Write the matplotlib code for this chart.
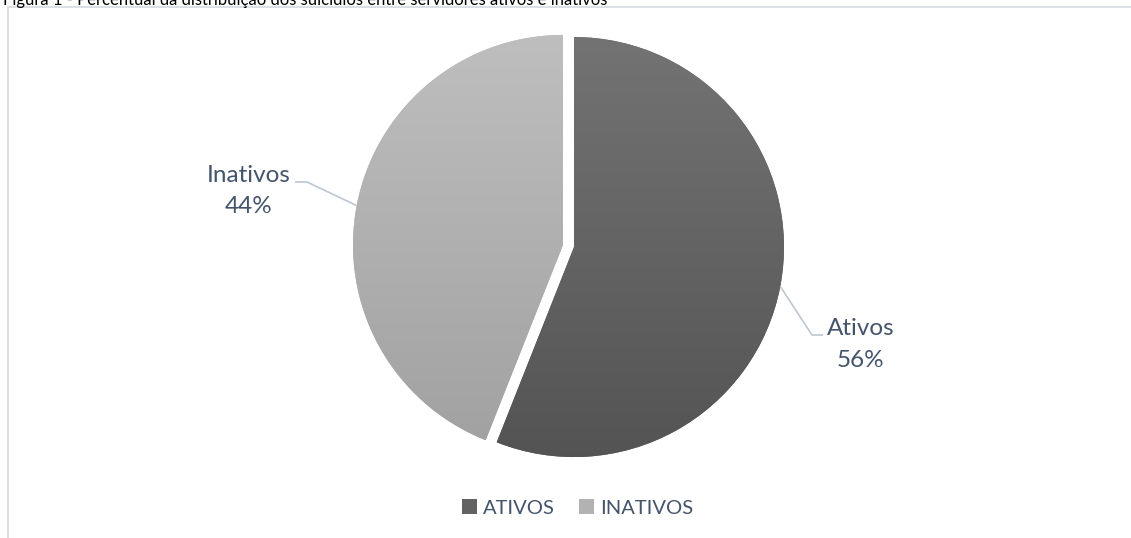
import matplotlib
matplotlib.use('Agg')
import matplotlib.pyplot as plt
import numpy as np
from matplotlib.patches import Rectangle, Patch
from matplotlib.colors import LinearSegmentedColormap

# ---- data ----
categories = ['Ativos', 'Inativos']
legend_labels = ['ATIVOS', 'INATIVOS']
percentages = [56, 44]
title = 'Figura 1 - Percentual da distribuição dos suicídios entre servidores ativos e inativos'

# ---- style ----
plt.rcParams['font.family'] = ['Lato', 'DejaVu Sans']
text_color = '#44546A'
line_color = '#BDC7D3'
grad_colors = [('#747474', '#535353'), ('#BFBFBF', '#A0A0A0')]
legend_colors = ['#626262', '#B2B2B2']

W, H = 1131, 538
fig = plt.figure(figsize=(W / 100, H / 100), dpi=100)
ax = fig.add_axes([0, 0, 1, 1])


def Y(y):
    return H - y


cx, cy, r = 568.5, Y(246), 210
wedges, _ = ax.pie(percentages, startangle=90, counterclock=False, radius=r,
                   center=(cx, cy), explode=[5.6, 5.6],
                   colors=legend_colors, wedgeprops=dict(linewidth=0))

grad = np.linspace(0, 1, 256).reshape(-1, 1)
for w, (top, bot) in zip(wedges, grad_colors):
    cmap = LinearSegmentedColormap.from_list('g', [top, bot])
    im = ax.imshow(grad, cmap=cmap, origin='upper', aspect='auto',
                   extent=[cx - r - 12, cx + r + 12, cy - r - 12, cy + r + 12], zorder=2)
    im.set_clip_path(w)

ax.set_xlim(0, W)
ax.set_ylim(0, H)
ax.set_aspect('auto')
ax.axis('off')

# leader lines and labels
elbows = {0: [(812, 335), (823, 335)], 1: [(307, 182), (295, 182)]}
label_pos = {0: (860.5, 335, 367), 1: (249, 182, 213)}
for i, w in enumerate(wedges):
    th = np.deg2rad((w.theta1 + w.theta2) / 2)
    ex = w.center[0] + r * np.cos(th)
    ey = w.center[1] + r * np.sin(th)
    xs = [ex] + [p[0] for p in elbows[i]]
    ys = [ey] + [Y(p[1]) for p in elbows[i]]
    ax.plot(xs, ys, color=line_color, lw=1.2, zorder=3, solid_capstyle='butt')
    lx, b1, b2 = label_pos[i]
    ax.text(lx, Y(b1), categories[i], ha='center', va='baseline',
            fontsize=17.5, color=text_color)
    ax.text(lx, Y(b2), f'{percentages[i]}%', ha='center', va='baseline',
            fontsize=17.5, color=text_color)

# legend
handles = [Patch(facecolor=c, edgecolor='none') for c in legend_colors]
fig.legend(handles, legend_labels, loc='center', bbox_to_anchor=(577.5 / W, Y(508) / H),
           ncol=2, frameon=False, fontsize=14.5, labelcolor=text_color,
           handlelength=0.75, handleheight=0.75, handletextpad=0.3,
           columnspacing=1.2, borderpad=0, borderaxespad=0)

# frame around chart area (extends beyond image)
ax.add_patch(Rectangle((7.5, -30), 2000, Y(6.5) + 30, facecolor='none',
                       edgecolor='#D9DDE3', lw=1.3, zorder=1))

# clipped title at top
fig.text(3 / W, Y(4.5) / H, title, ha='left', va='baseline', fontsize=12, color='#000000')

fig.savefig('out.png', dpi=100)
